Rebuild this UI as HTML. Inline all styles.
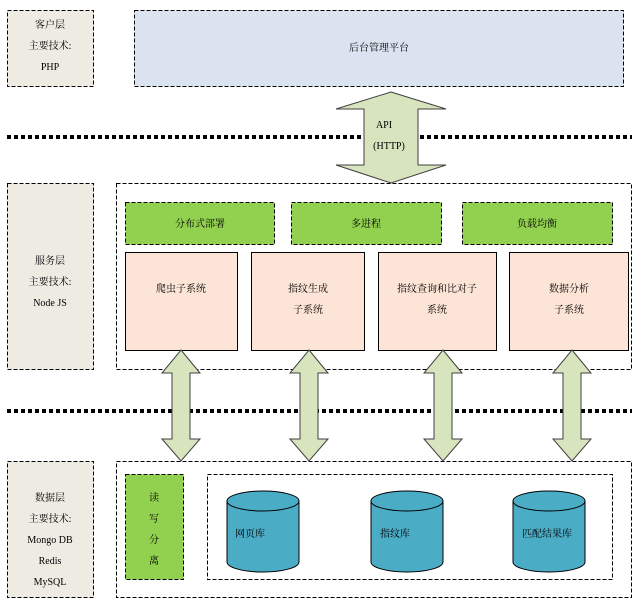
<!DOCTYPE html>
<html><head><meta charset="utf-8"><style>body{margin:0;background:#fff}</style></head><body>
<svg width="638" height="602" xmlns="http://www.w3.org/2000/svg" font-family="Liberation Serif, Noto Serif CJK SC, serif" font-size="10" fill="#000">
<g stroke="#000" stroke-width="1" stroke-dasharray="4,2">
<rect x="7.5" y="10.5" width="86" height="76" fill="#eeebe3"/>
<rect x="134.5" y="10.5" width="489" height="76" fill="#dce3f0"/>
<rect x="7.5" y="183.5" width="86" height="186" fill="#eeebe3"/>
<rect x="116.5" y="183.5" width="515" height="186" fill="none"/>
<rect x="125.5" y="202.5" width="149" height="42" fill="#92d050"/>
<rect x="291.5" y="202.5" width="150" height="42" fill="#92d050"/>
<rect x="462.5" y="202.5" width="150" height="42" fill="#92d050"/>
<rect x="7.5" y="461.5" width="86" height="136" fill="#eeebe3"/>
<rect x="116.5" y="461.5" width="515" height="136" fill="none"/>
<rect x="125.5" y="474.5" width="58" height="105" fill="#92d050"/>
<rect x="207.5" y="474.5" width="405" height="105" fill="none"/>
</g>
<g stroke="#000" stroke-width="4" stroke-dasharray="4,3">
<line x1="7" y1="137" x2="632" y2="137"/>
<line x1="7" y1="411" x2="632" y2="411"/>
</g>
<g stroke="#000" fill="#fce4d6">
<rect x="125.5" y="252.5" width="112" height="98"/>
<rect x="251.5" y="252.5" width="113" height="98"/>
<rect x="378.5" y="252.5" width="118" height="98"/>
<rect x="509.5" y="252.5" width="119" height="98"/>
</g>
<g stroke="#404040" fill="#d7e4bd">
<polygon points="391,92 446,109 418,109 418,165 446,165 391,183 336,165 364,165 364,109 336,109"/>
<polygon points="181,350 200,373 190,373 190,439 200,439 181,461 162,439 172,439 172,373 162,373"/>
<polygon points="309,350 328,373 318,373 318,439 328,439 309,461 290,439 300,439 300,373 290,373"/>
<polygon points="443,350 462,373 452,373 452,439 462,439 443,461 424,439 434,439 434,373 424,373"/>
<polygon points="572,350 591,373 581,373 581,439 591,439 572,461 553,439 563,439 563,373 553,373"/>
</g>
<g stroke="#000" fill="#4bacc6">
<path d="M227,501 L227,562 A36,10 0 0 0 299,562 L299,501"/>
<ellipse cx="263" cy="501" rx="36" ry="10"/>
<path d="M371,501 L371,562 A36,10 0 0 0 443,562 L443,501"/>
<ellipse cx="407" cy="501" rx="36" ry="10"/>
<path d="M513,501 L513,562 A36,10 0 0 0 585,562 L585,501"/>
<ellipse cx="549" cy="501" rx="36" ry="10"/>
</g>
<g text-anchor="middle">
<text x="50" y="28">客户层</text><text x="50" y="49">主要技术:</text><text x="50" y="70">PHP</text>
<text x="379" y="51">后台管理平台</text>
<text x="384" y="128">API</text><text x="389" y="149">(HTTP)</text>
<text x="50" y="264">服务层</text><text x="50" y="285">主要技术:</text><text x="50" y="306">Node JS</text>
<text x="200" y="227">分布式部署</text><text x="366" y="227">多进程</text><text x="537" y="227">负载均衡</text>
<text x="181" y="292">爬虫子系统</text>
<text x="308" y="292">指纹生成</text><text x="308" y="313">子系统</text>
<text x="437" y="292">指纹查询和比对子</text><text x="437" y="313">系统</text>
<text x="569" y="292">数据分析</text><text x="569" y="313">子系统</text>
<text x="50" y="501">数据层</text><text x="50" y="522">主要技术:</text><text x="50" y="543">Mongo DB</text><text x="50" y="564">Redis</text><text x="50" y="585">MySQL</text>
<text x="154" y="501">读</text><text x="154" y="522">写</text><text x="154" y="543">分</text><text x="154" y="564">离</text>
</g>
<text x="235" y="537">网页库</text>
<text x="380" y="537">指纹库</text>
<text x="522" y="537">匹配结果库</text>
</svg>
</body></html>
